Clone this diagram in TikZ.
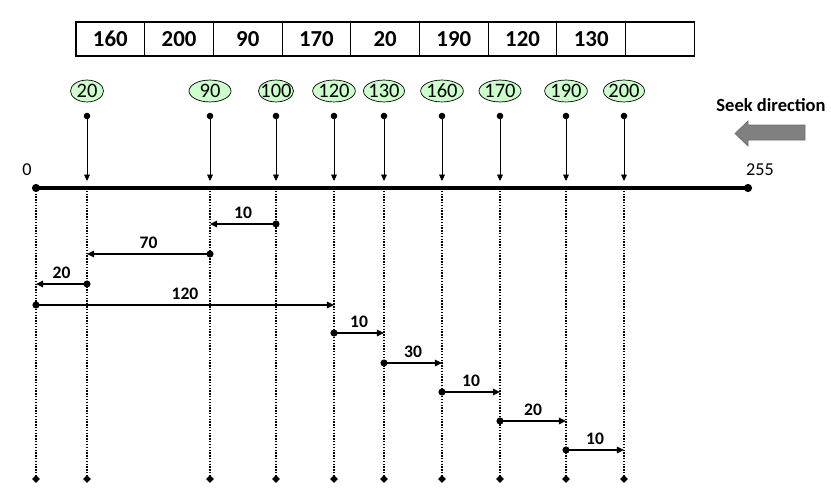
\documentclass[tikz,border=0pt]{standalone}
\usepackage{fontspec}
\setmainfont{Carlito}
\usetikzlibrary{arrows.meta,shapes.geometric}
\definecolor{reqgreen}{RGB}{204,255,204}
\definecolor{seekgray}{RGB}{128,128,128}

\begin{document}
\begin{tikzpicture}[x=0.03cm, y=-0.03cm,
  cell/.style={draw, line width=0.9pt, minimum width=2.06cm, minimum height=1.02cm, inner sep=0pt, text height=13pt, text depth=0pt, font=\fontsize{19.5}{21}\selectfont\bfseries},
  req/.style={draw, line width=0.6pt, ellipse, fill=reqgreen, inner xsep=-4pt, inner ysep=0pt, minimum height=18.7pt, text height=11.5pt, text depth=0pt, font=\fontsize{17.5}{19}\selectfont},
  ptr/.style={line width=0.8pt, {Circle[length=5.5pt]}-{Triangle[length=5.5pt,width=5pt]}, shorten <=-2.75pt, shorten >=6pt},
  mv/.style={line width=1.3pt, {Circle[length=6pt]}-{Triangle[length=6pt,width=5.5pt]}, shorten <=-3pt},
  drop/.style={line width=1.3pt, dash pattern=on 1.2pt off 1.2pt},
  foot/.style={diamond, fill, inner sep=1.7pt},
  lbl/.style={above=1pt, font=\fontsize{15}{17}\selectfont\bfseries},
  axl/.style={font=\fontsize{15.5}{17}\selectfont}
]
\useasboundingbox (0,0) rectangle (831,501);

\foreach \v [count=\i] in {160,200,90,170,20,190,120,130,{}}
  \node[cell] (c\i) at ({76+68.7*(\i-0.5)},39) {\v};

\coordinate (a0) at (36,188);
\coordinate (b0) at (36,479);
\coordinate (a255) at (748,188);
\draw[drop] (a0) -- (b0);
\node[foot] (d0) at (b0) {};

\foreach \v/\x/\w in {20/87/0.99, 90/210/1.26, 100/276/1.05, 120/334/1.28, 130/384/1.23, 160/442/1.28, 170/500/1.26, 190/566/1.28, 200/624/1.23} {
  \node[req, minimum width=\w cm] (e\v) at (\x,91) {\v};
  \coordinate (p\v) at (\x,116);
  \coordinate (a\v) at (\x,188);
  \coordinate (b\v) at (\x,479);
  \draw[ptr] (p\v) -- (a\v);
  \draw[drop] (a\v) -- (b\v);
  \node[foot] (d\v) at (b\v) {};
}

\draw[line width=2.6pt] (a0) -- (a255);
\fill (a0) circle (3.5pt);
\fill (a255) circle (3.5pt);
\foreach \v in {20,90,100,120,130,160,170,190,200}
  \fill (a\v) circle (1.6pt);

\node[axl] (l0) at (27,170) {0};
\node[axl] (l255) at (760,170) {255};

\foreach \i/\s/\t/\y/\d in {1/100/90/224/10, 2/90/20/254/70, 3/20/0/284/20, 4/0/120/305/120, 5/120/130/333/10, 6/130/160/363/30, 7/160/170/392/10, 8/170/190/421/20, 9/190/200/450/10} {
  \coordinate (r\i) at (0,\y);
  \draw[mv] (a\s |- r\i) -- node[lbl] (m\i) {\d} (a\t |- r\i);
}

\node[font=\fontsize{15.8}{17}\selectfont\bfseries] (seek) at (771,105) {Seek direction};
\draw[fill=seekgray, draw=seekgray!85!black, line width=0.6pt] (805,125) -- (748,125) -- (748,121) -- (735,133.5) -- (748,146) -- (748,140) -- (805,140) -- cycle;
\end{tikzpicture}
\end{document}
